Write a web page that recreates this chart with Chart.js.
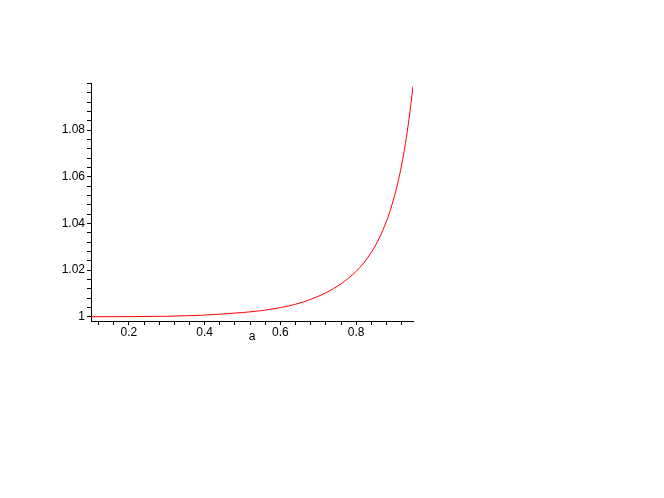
<!DOCTYPE html>
<html>
<head>
<meta charset="utf-8">
<script src="https://cdn.jsdelivr.net/npm/chart.js@4"></script>
<style>
    html, body { margin: 0; padding: 0; background: #fff; }
    #wrap { width: 664px; height: 498px; }
</style>
</head>
<body>
<div id="wrap"><canvas id="plot"></canvas></div>
<script>
// values
const aValues = [0.10, 0.20, 0.30, 0.35, 0.40, 0.45, 0.50, 0.55, 0.60, 0.62, 0.64, 0.66, 0.68, 0.70, 0.72, 0.74, 0.76, 0.78, 0.80, 0.82, 0.84, 0.86, 0.88, 0.89, 0.90, 0.91, 0.92, 0.93, 0.94, 0.95];
const fValues = [1.0000, 1.00003, 1.0002, 1.0004, 1.0007, 1.0012, 1.0018, 1.0026, 1.0039, 1.00456, 1.00535, 1.00628, 1.00741, 1.00874, 1.01026, 1.01203, 1.01412, 1.01657, 1.01945, 1.02305, 1.0276, 1.03337, 1.04097, 1.0456, 1.05104, 1.05743, 1.06508, 1.07427, 1.08534, 1.09875];

const xMajorTicks = [0.2, 0.4, 0.6, 0.8];
const yMajorTicks = [1, 1.02, 1.04, 1.06, 1.08];
const xMinorStep = 0.04;
const yMinorStep = 0.004;

function minorTicks(min, max, step) {
    const out = [];
    for (let v = Math.ceil(min / step) * step; v <= max + 1e-9; v += step) {
        out.push({ value: +v.toFixed(4) });
    }
    return out;
}

function isMajor(list, value) {
    return list.some(m => Math.abs(m - value) < 1e-6);
}

const points = aValues.map((a, i) => ({ x: a, y: fValues[i] }));

new Chart(document.getElementById('plot'), {
    type: 'line',
    data: {
        datasets: [{
            data: points,
            borderColor: '#ff0000',
            borderWidth: 1,
            pointRadius: 0,
            cubicInterpolationMode: 'monotone',
            fill: false
        }]
    },
    options: {
        responsive: true,
        maintainAspectRatio: false,
        animation: false,
        layout: {
            padding: { left: 51, right: 251, top: 83, bottom: 147 }
        },
        scales: {
            x: {
                type: 'linear',
                min: 0.1,
                max: 0.95,
                afterBuildTicks: function(scale) {
                    scale.ticks = minorTicks(0.1, 0.95, xMinorStep);
                },
                afterFit: function(scale) {
                    scale.height = 30;
                },
                border: { color: '#000', width: 1 },
                grid: {
                    drawOnChartArea: false,
                    tickLength: 4,
                    tickColor: '#000'
                },
                ticks: {
                    autoSkip: false,
                    maxRotation: 0,
                    padding: 0,
                    color: '#000',
                    font: { family: 'Liberation Sans', size: 12 },
                    callback: function(value) {
                        return isMajor(xMajorTicks, value) ? String(+value.toFixed(1)) : '';
                    }
                },
                title: {
                    display: true,
                    text: 'a',
                    color: '#000',
                    padding: { top: 0, bottom: 7 },
                    font: { family: 'Liberation Sans', size: 12 }
                }
            },
            y: {
                type: 'linear',
                min: 0.99816,
                max: 1.1002,
                afterBuildTicks: function(scale) {
                    scale.ticks = minorTicks(0.99816, 1.1002, yMinorStep);
                },
                afterFit: function(scale) {
                    scale.width = 40;
                },
                border: { color: '#000', width: 1 },
                grid: {
                    drawOnChartArea: false,
                    tickLength: 4,
                    tickColor: '#000'
                },
                ticks: {
                    autoSkip: false,
                    padding: 2,
                    color: '#000',
                    font: { family: 'Liberation Sans', size: 12 },
                    callback: function(value) {
                        return isMajor(yMajorTicks, value) ? String(+value.toFixed(2)) : '';
                    }
                }
            }
        },
        plugins: {
            legend: { display: false },
            tooltip: { enabled: false }
        }
    }
});
</script>
</body>
</html>
